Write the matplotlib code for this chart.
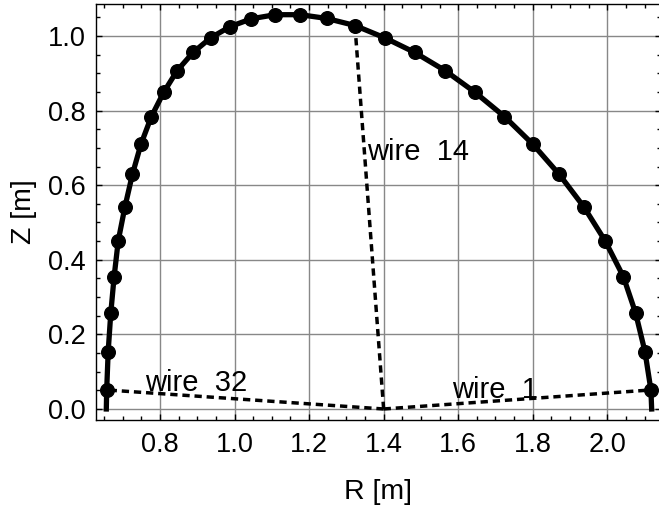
import numpy as np
import matplotlib
matplotlib.use("Agg")
import matplotlib.pyplot as plt
from matplotlib.ticker import MultipleLocator

plt.rcParams['font.family'] = ['Liberation Sans', 'DejaVu Sans']

# wire positions along the boundary, wire 1 at bottom right going counterclockwise
R_wire = [2.117, 2.101, 2.076, 2.043, 1.994, 1.937, 1.871, 1.800, 1.724, 1.645,
          1.565, 1.483, 1.403, 1.323, 1.247, 1.176, 1.109, 1.045, 0.988, 0.936,
          0.889, 0.846, 0.810, 0.777, 0.749, 0.726, 0.706, 0.688, 0.677, 0.668,
          0.661, 0.657]
Z_wire = [0.051, 0.154, 0.257, 0.355, 0.451, 0.542, 0.629, 0.710, 0.784, 0.849,
          0.907, 0.956, 0.995, 1.028, 1.047, 1.057, 1.057, 1.046, 1.025, 0.995,
          0.956, 0.907, 0.849, 0.784, 0.710, 0.629, 0.542, 0.451, 0.355, 0.257,
          0.154, 0.051]

# boundary ends on the midplane
R_end = [2.119, 0.656]
Z_end = [0.0, 0.0]

# chord origin and labelled wires
R0, Z0 = 1.40, 0.0
labelled = [1, 14, 32]
label_R = [1.583, 1.356, 0.760]
label_Z = [0.029, 0.668, 0.049]

fig = plt.figure(figsize=(6.59, 5.15), dpi=100)
ax = fig.add_axes([0.1452, 0.1845, 0.8578, 0.8087])

R_line = [R_end[0]] + R_wire + [R_end[1]]
Z_line = [Z_end[0]] + Z_wire + [Z_end[1]]
ax.plot(R_line, Z_line, color='black', lw=3.8, solid_capstyle='projecting',
        solid_joinstyle='round', zorder=3)
ax.plot(R_wire, Z_wire, 'o', color='black', markersize=9.8, zorder=4)

for n, lr, lz in zip(labelled, label_R, label_Z):
    ax.plot([R0, R_wire[n - 1]], [Z0, Z_wire[n - 1]], color='black', lw=2.5,
            dashes=(2.1, 1.4), zorder=2)
    ax.text(lr, lz, 'wire  %d' % n, fontsize=21, ha='left', va='baseline', zorder=5)

ax.set_xlim(0.6275, 2.144)
ax.set_ylim(-0.0295, 1.087)

ax.xaxis.set_major_locator(MultipleLocator(0.2))
ax.xaxis.set_minor_locator(MultipleLocator(0.05))
ax.yaxis.set_major_locator(MultipleLocator(0.2))
ax.yaxis.set_minor_locator(MultipleLocator(0.05))
ax.tick_params(which='both', direction='in', top=True, right=True, labelsize=19.5,
               width=1.0, color='black')
ax.tick_params(which='major', length=4.5, pad=7)
ax.tick_params(axis='x', which='major', pad=9)
ax.tick_params(which='minor', length=3)
ax.grid(True, which='major', color='#888888', lw=1.0, zorder=0)
ax.set_axisbelow(True)
for s in ax.spines.values():
    s.set_linewidth(1.0)

ax.set_xlabel('R [m]', fontsize=20.5, labelpad=15)
ax.set_ylabel('Z [m]', fontsize=20.5, labelpad=8)

fig.savefig('out.png', dpi=100)
